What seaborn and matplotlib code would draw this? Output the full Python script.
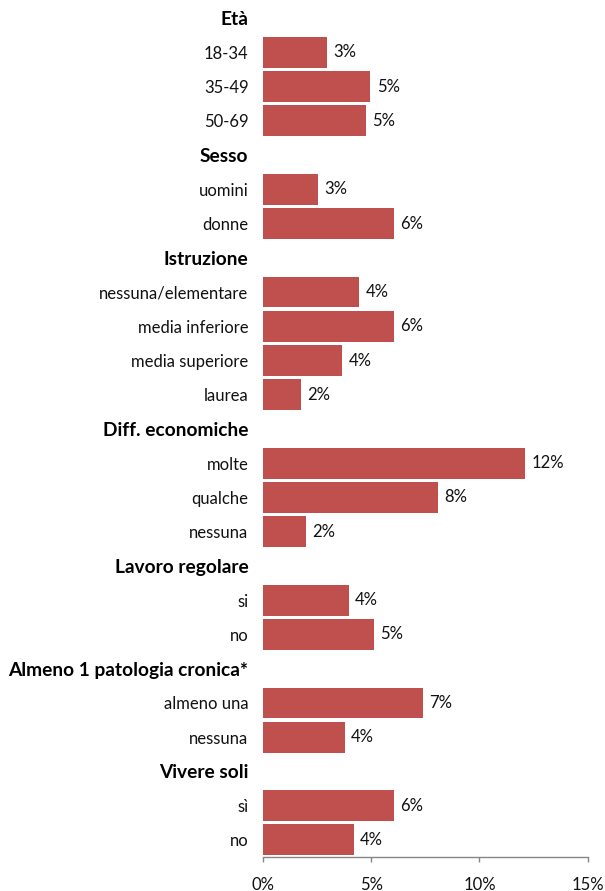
import matplotlib
matplotlib.use("Agg")
import matplotlib.pyplot as plt
import seaborn as sns
import pandas as pd

# ---- data ----
groups = ["Età", "Sesso", "Istruzione", "Diff. economiche", "Lavoro regolare",
          "Almeno 1 patologia cronica*", "Vivere soli"]
group_categories = [
    ["18-34", "35-49", "50-69"],
    ["uomini", "donne"],
    ["nessuna/elementare", "media inferiore", "media superiore", "laurea"],
    ["molte", "qualche", "nessuna"],
    ["si", "no"],
    ["almeno una", "nessuna"],
    ["sì", "no"],
]
group_values = [
    [2.96, 4.96, 4.77],
    [2.55, 6.04],
    [4.44, 6.04, 3.66, 1.76],
    [12.1, 8.08, 2.0],
    [3.95, 5.14],
    [7.4, 3.77],
    [6.04, 4.2],
]
x_ticks = [0, 5, 10, 15]
x_tick_labels = ["0%", "5%", "10%", "15%"]

# ---- build table ----
rows, order, tick_text, is_header = [], [], [], []
for g, cats, vals in zip(groups, group_categories, group_values):
    hkey = f"H|{g}"
    order.append(hkey)
    tick_text.append(g)
    is_header.append(True)
    for c, v in zip(cats, vals):
        key = f"{g}|{c}"
        order.append(key)
        tick_text.append(c)
        is_header.append(False)
        rows.append({"key": key, "value": v})
df = pd.DataFrame(rows)

sns.set_theme(style="white")
plt.rcParams["font.family"] = ["Lato", "DejaVu Sans"]

fig = plt.figure(figsize=(6.05, 8.91), dpi=100)
ax = fig.add_axes([263 / 605, 34 / 891, (587.7 - 263) / 605, 856 / 891])

sns.barplot(data=df, x="value", y="key", order=order, orient="h",
            color="#C0504D", saturation=1, width=0.9, ax=ax, errorbar=None,
            linewidth=0)

for cont in ax.containers:
    ax.bar_label(cont, fmt="{:.0f}%", padding=4.5, fontsize=12, color="#111111")

ax.set_xlim(0, 15)
ax.set_ylim(len(order) - 0.5, -0.5)
ax.set_xticks(x_ticks)
ax.set_xticklabels(x_tick_labels, fontsize=12, color="#111111")
ax.set_yticks(range(len(order)))
ax.set_yticklabels(tick_text, fontsize=12, color="#111111")
for lab, h in zip(ax.get_yticklabels(), is_header):
    if h:
        lab.set_fontweight("bold")
        lab.set_fontsize(13.8)
        lab.set_color("black")
ax.set_xlabel("")
ax.set_ylabel("")
for s in ["top", "right", "left"]:
    ax.spines[s].set_visible(False)
ax.spines["bottom"].set_color("#868686")
ax.spines["bottom"].set_linewidth(1)
ax.tick_params(axis="y", length=0, pad=10.5)
ax.tick_params(axis="x", length=3.6, width=1, color="#868686", direction="out", pad=10.5, bottom=True)

fig.savefig("out.png", dpi=100)
